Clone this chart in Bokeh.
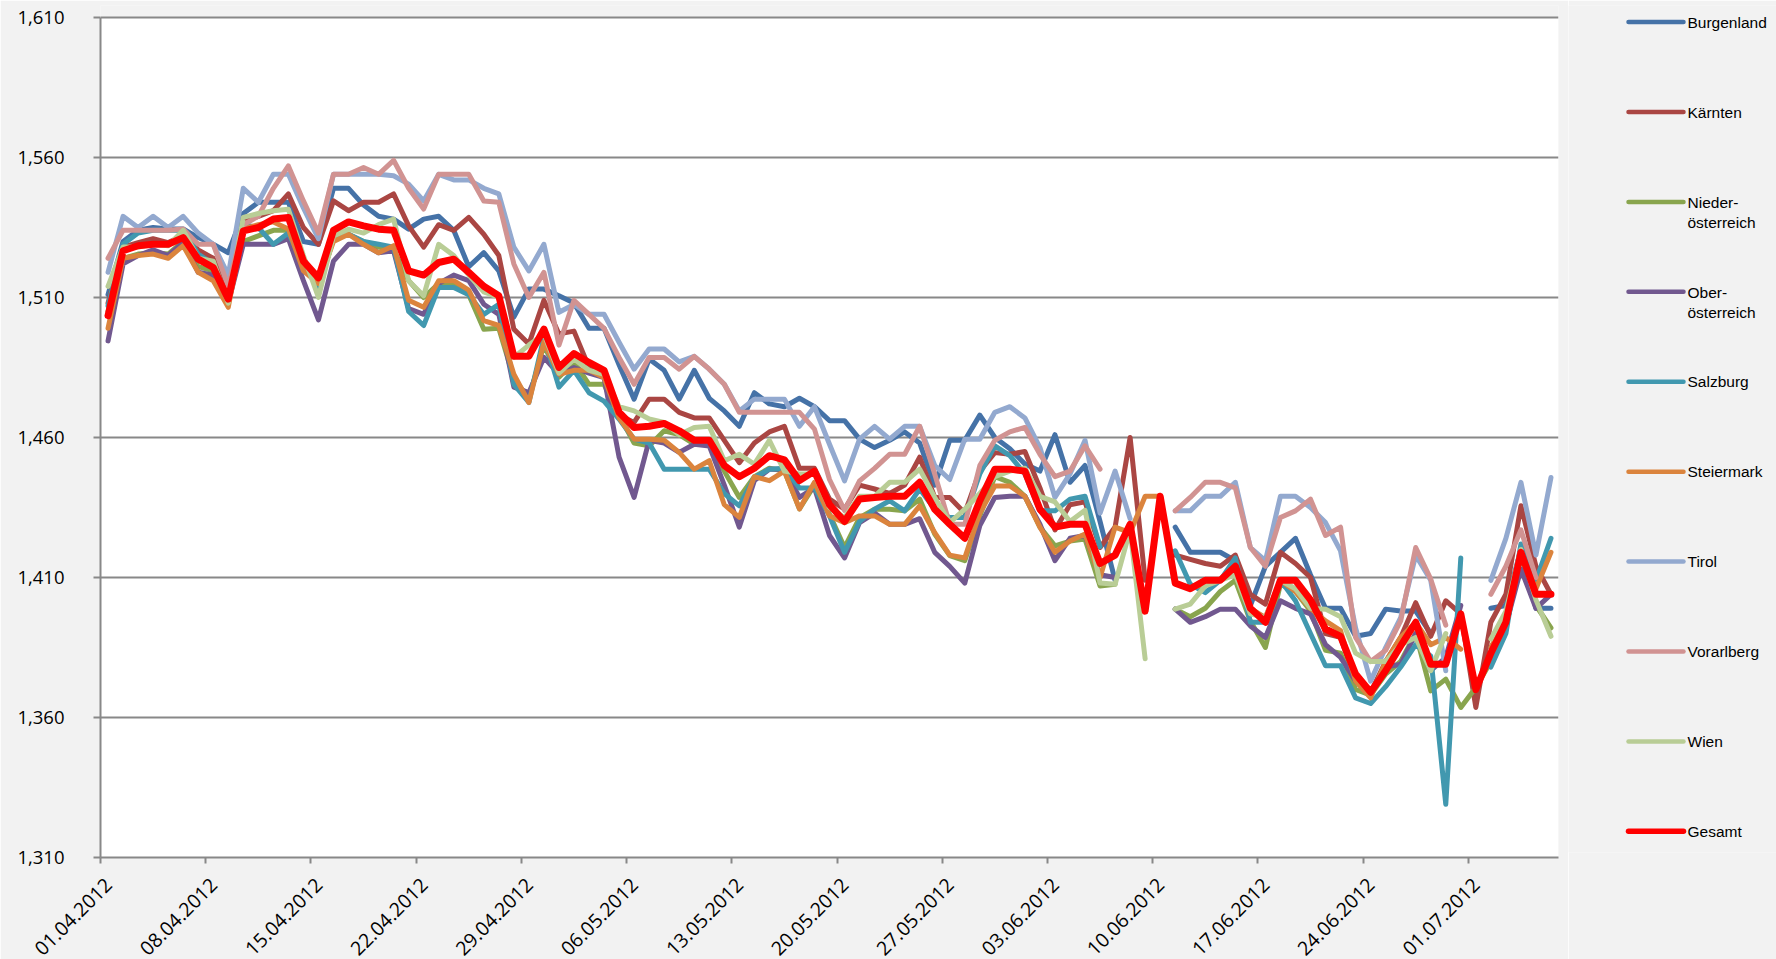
import math
import numpy as np
import pandas as pd
from bokeh.plotting import figure
from bokeh.models import (ColumnDataSource, Range1d, FixedTicker, CustomJSTickFormatter,
                          LinearAxis)
from bokeh.layouts import row
from bokeh.embed import file_html
from bokeh.resources import INLINE
from bokeh.core.properties import value

nan = float("nan")

# ---------------- data ----------------
dates = pd.date_range("2012-04-01", "2012-07-06", freq="D")   # 97 daily categories
tick_labels = ["01.04.2012", "08.04.2012", "15.04.2012", "22.04.2012", "29.04.2012",
               "06.05.2012", "13.05.2012", "20.05.2012", "27.05.2012", "03.06.2012",
               "10.06.2012", "17.06.2012", "24.06.2012", "01.07.2012"]
y_ticks = [1.31, 1.36, 1.41, 1.46, 1.51, 1.56, 1.61]

series_names = ["Burgenland", "Kärnten", "Nieder-\nösterreich", "Ober-\nösterreich", "Salzburg",
                "Steiermark", "Tirol", "Vorarlberg", "Wien", "Gesamt"]

burgenland = [1.511, 1.530, 1.534, 1.535, 1.5345, 1.5345, 1.5314, 1.529, 1.526, 1.540,
              1.544, 1.544, 1.544, 1.530, 1.529, 1.549, 1.549, 1.543, 1.539, 1.538,
              1.5344, 1.538, 1.539, 1.534, 1.521, 1.526, 1.5195, 1.503, 1.513, 1.513,
              1.5106, 1.508, 1.499, 1.499, 1.486, 1.4737, 1.488, 1.484, 1.4737, 1.484,
              1.474, 1.4695, 1.464, 1.476, 1.472, 1.471, 1.474, 1.471, 1.466, 1.466,
              1.4594, 1.4564, 1.459, 1.462, 1.458, 1.443, 1.459, 1.459, 1.468, 1.460,
              1.456, 1.4505, 1.448, 1.461, 1.444, 1.450, 1.430, 1.409, nan, nan,
              nan, 1.428, 1.419, 1.419, 1.419, 1.416, 1.400, 1.414, 1.419, 1.424,
              1.411, 1.399, 1.399, 1.389, 1.390, 1.3987, 1.398, 1.398, 1.390, nan,
              nan, nan, 1.399, 1.400, 1.420, 1.399, 1.399]

kaernten = [1.508, 1.528, 1.5296, 1.531, 1.5296, 1.532, 1.527, 1.524, 1.512, 1.537,
            1.539, 1.541, 1.547, 1.535, 1.529, 1.5445, 1.541, 1.544, 1.544, 1.547,
            1.5356, 1.528, 1.536, 1.534, 1.5386, 1.5326, 1.525, 1.4987, 1.4934, 1.509,
            1.497, 1.498, 1.485, 1.482, 1.468, 1.4654, 1.4737, 1.4737, 1.469, 1.467,
            1.467, 1.459, 1.451, 1.458, 1.462, 1.464, 1.449, 1.449, 1.438, 1.4344,
            1.443, 1.4416, 1.440, 1.443, 1.453, 1.4386, 1.4386, 1.433, 1.448, 1.4546,
            1.454, 1.455, 1.442, 1.427, 1.436, 1.437, 1.4207, 1.428, 1.460, 1.409,
            nan, 1.418, 1.4165, 1.415, 1.414, 1.418, 1.404, 1.4005, 1.419, 1.415,
            1.410, 1.390, 1.3886, 1.373, 1.369, 1.380, 1.3886, 1.401, 1.389, 1.4017,
            1.397, 1.3636, 1.394, 1.404, 1.4356, 1.414, 1.404]

niederoesterreich = [1.505, 1.524, 1.5255, 1.526, 1.5255, 1.530, 1.521, 1.5195, 1.509, 1.530,
                     1.532, 1.534, 1.534, 1.523, 1.514, 1.531, 1.5326, 1.530, 1.528, 1.527,
                     1.516, 1.510, 1.515, 1.515, 1.511, 1.4987, 1.499, 1.481, 1.474, 1.493,
                     1.4815, 1.487, 1.479, 1.479, 1.468, 1.458, 1.457, 1.4624, 1.461, 1.4576,
                     1.4576, 1.448, 1.4386, 1.446, 1.449, 1.448, 1.4345, 1.443, 1.4326, 1.4207,
                     1.4314, 1.4344, 1.4344, 1.4338, 1.438, 1.4255, 1.4178, 1.416, 1.432, 1.446,
                     1.444, 1.439, 1.428, 1.4213, 1.423, 1.4237, 1.407, 1.4076, nan, nan,
                     nan, 1.3987, 1.396, 1.399, 1.405, 1.409, 1.3945, 1.385, 1.4076, 1.405,
                     1.398, 1.384, 1.383, 1.370, 1.368, 1.3755, 1.380, 1.390, 1.3695, 1.3737,
                     1.3636, 1.3707, 1.380, 1.392, 1.418, 1.400, 1.392]

oberoesterreich = [1.4945, 1.522, 1.525, 1.527, 1.525, 1.5296, 1.519, 1.518, 1.508, 1.529,
                   1.529, 1.529, 1.531, 1.516, 1.502, 1.523, 1.529, 1.529, 1.526, 1.5267,
                   1.506, 1.504, 1.515, 1.518, 1.516, 1.5076, 1.504, 1.478, 1.476, 1.4886,
                   1.4826, 1.485, 1.483, 1.4814, 1.453, 1.4386, 1.459, 1.458, 1.4547, 1.4576,
                   1.457, 1.443, 1.428, 1.4446, 1.4487, 1.4487, 1.4386, 1.442, 1.425, 1.417,
                   1.4296, 1.433, 1.429, 1.429, 1.431, 1.419, 1.414, 1.408, 1.4285, 1.4386,
                   1.439, 1.439, 1.429, 1.416, 1.424, 1.425, 1.411, 1.410, nan, nan,
                   nan, 1.3987, 1.394, 1.396, 1.3987, 1.3987, 1.3927, 1.3886, 1.4017, 1.399,
                   1.397, 1.386, 1.3815, 1.373, 1.368, 1.378, 1.379, 1.390, 1.3767, 1.3815,
                   1.400, nan, 1.385, 1.393, 1.413, 1.399, 1.404]

salzburg = [1.507, 1.529, 1.533, 1.534, 1.534, 1.534, 1.5255, 1.522, 1.509, 1.536,
            1.535, 1.529, 1.533, 1.522, 1.5136, 1.531, 1.5326, 1.530, 1.529, 1.528,
            1.505, 1.500, 1.5136, 1.5136, 1.511, 1.504, 1.5076, 1.479, 1.4725, 1.496,
            1.478, 1.484, 1.476, 1.473, 1.4666, 1.4594, 1.458, 1.4487, 1.4487, 1.4487,
            1.4487, 1.440, 1.4356, 1.4457, 1.4487, 1.449, 1.442, 1.442, 1.432, 1.419,
            1.430, 1.4344, 1.4374, 1.4338, 1.4416, 1.4344, 1.4314, 1.4314, 1.447, 1.457,
            1.4535, 1.447, 1.4338, 1.4338, 1.438, 1.439, 1.421, nan, nan, nan,
            nan, 1.4195, 1.4076, 1.4046, 1.409, 1.417, 1.394, 1.394, 1.409, 1.4017,
            1.390, 1.3785, 1.3785, 1.367, 1.365, 1.371, 1.378, 1.386, 1.382, 1.329,
            1.417, nan, 1.378, 1.390, 1.422, 1.409, 1.424]

steiermark = [1.499, 1.524, 1.525, 1.5255, 1.524, 1.5285, 1.519, 1.516, 1.5065, 1.5345,
              1.536, 1.537, 1.5345, 1.5195, 1.515, 1.530, 1.5326, 1.529, 1.526, 1.5285,
              1.509, 1.5065, 1.516, 1.516, 1.5126, 1.5017, 1.500, 1.4826, 1.4725, 1.494,
              1.4826, 1.484, 1.484, 1.4814, 1.467, 1.4594, 1.4594, 1.459, 1.4547, 1.4487,
              1.4517, 1.436, 1.4315, 1.446, 1.4446, 1.448, 1.4345, 1.444, 1.432, 1.4296,
              1.432, 1.432, 1.429, 1.429, 1.4356, 1.426, 1.418, 1.417, 1.433, 1.4427,
              1.4427, 1.439, 1.428, 1.419, 1.423, 1.4255, 1.410, 1.428, 1.426, 1.439,
              1.439, 1.408, 1.4064, 1.4076, 1.409, 1.412, 1.399, 1.3957, 1.409, 1.405,
              1.399, 1.3945, 1.391, 1.373, 1.367, 1.380, 1.3886, 1.394, 1.386, 1.3886,
              1.3844, nan, 1.385, 1.395, 1.418, 1.406, 1.419]

tirol = [1.519, 1.539, 1.535, 1.539, 1.535, 1.539, 1.533, 1.529, 1.518, 1.549,
         1.544, 1.554, 1.554, 1.542, 1.531, 1.554, 1.554, 1.554, 1.554, 1.5535,
         1.5505, 1.5445, 1.554, 1.552, 1.552, 1.549, 1.547, 1.528, 1.5195, 1.529,
         1.5047, 1.5075, 1.504, 1.504, 1.494, 1.4844, 1.4916, 1.4916, 1.487, 1.489,
         1.4844, 1.479, 1.4695, 1.4737, 1.4737, 1.4737, 1.464, 1.471, 1.4576, 1.4445,
         1.4594, 1.464, 1.4594, 1.464, 1.464, 1.450, 1.445, 1.4594, 1.4594, 1.469,
         1.471, 1.467, 1.4564, 1.4386, 1.447, 1.459, 1.433, 1.448, 1.431, nan,
         nan, 1.4338, 1.4338, 1.439, 1.439, 1.444, 1.4207, 1.416, 1.439, 1.439,
         1.435, 1.4296, 1.4195, 1.392, 1.373, 1.385, 1.3957, 1.418, 1.409, 1.3767,
         nan, nan, 1.409, 1.424, 1.444, 1.418, 1.4457]

vorarlberg = [1.524, 1.534, 1.534, 1.534, 1.534, 1.5345, 1.529, 1.529, 1.514, 1.536,
              1.539, 1.549, 1.557, 1.5445, 1.533, 1.554, 1.554, 1.5564, 1.554, 1.559,
              1.549, 1.5416, 1.554, 1.554, 1.554, 1.5445, 1.544, 1.522, 1.510, 1.519,
              1.493, 1.509, 1.504, 1.499, 1.4886, 1.479, 1.4886, 1.4886, 1.4844, 1.489,
              1.4844, 1.479, 1.469, 1.469, 1.469, 1.469, 1.469, 1.463, 1.445, 1.434,
              1.4445, 1.449, 1.454, 1.454, 1.464, 1.447, 1.429, 1.429, 1.450, 1.459,
              1.462, 1.4636, 1.454, 1.446, 1.448, 1.457, 1.4487, nan, nan, nan,
              nan, 1.4338, 1.4386, 1.444, 1.444, 1.442, 1.4207, 1.414, 1.4314, 1.4338,
              1.438, 1.425, 1.428, 1.3886, 1.380, 1.384, 1.3945, 1.4207, 1.4094, 1.393,
              nan, nan, 1.404, 1.414, 1.427, 1.410, nan]

wien = [1.514, 1.528, 1.528, 1.529, 1.5285, 1.534, 1.524, 1.523, 1.508, 1.5386,
        1.540, 1.541, 1.5415, 1.525, 1.510, 1.532, 1.5344, 1.533, 1.536, 1.538,
        1.516, 1.5106, 1.529, 1.525, 1.518, 1.512, 1.510, 1.4886, 1.493, 1.497,
        1.483, 1.488, 1.484, 1.4826, 1.471, 1.4695, 1.4666, 1.4654, 1.461, 1.4636,
        1.464, 1.4517, 1.454, 1.4505, 1.459, 1.448, 1.447, 1.447, 1.435, 1.4314,
        1.439, 1.439, 1.444, 1.444, 1.4487, 1.4386, 1.4296, 1.4344, 1.440, 1.446,
        1.448, 1.449, 1.439, 1.437, 1.430, 1.434, 1.408, 1.4076, 1.427, 1.381,
        nan, 1.3987, 1.4005, 1.407, 1.409, 1.411, 1.397, 1.3957, 1.409, 1.406,
        1.399, 1.3987, 1.396, 1.383, 1.380, 1.380, 1.386, 1.3886, 1.3767, 1.390,
        nan, nan, 1.388, 1.398, 1.420, 1.402, 1.389]

gesamt = [1.5035, 1.5267, 1.5285, 1.529, 1.529, 1.5314, 1.5237, 1.5207, 1.5094, 1.5338,
          1.535, 1.538, 1.5386, 1.523, 1.517, 1.534, 1.537, 1.5356, 1.5344, 1.534,
          1.5195, 1.518, 1.5225, 1.5237, 1.519, 1.514, 1.5106, 1.489, 1.489, 1.4987,
          1.485, 1.490, 1.4868, 1.484, 1.469, 1.4636, 1.464, 1.465, 1.4624, 1.459,
          1.459, 1.450, 1.446, 1.449, 1.4535, 1.452, 1.4446, 1.448, 1.436, 1.430,
          1.438, 1.4386, 1.439, 1.439, 1.444, 1.4344, 1.429, 1.424, 1.4374, 1.4487,
          1.4487, 1.448, 1.4344, 1.428, 1.429, 1.429, 1.415, 1.418, 1.429, 1.398,
          1.439, 1.408, 1.406, 1.409, 1.409, 1.414, 1.399, 1.394, 1.409, 1.409,
          1.402, 1.3916, 1.389, 1.3755, 1.369, 1.3767, 1.3856, 1.394, 1.379, 1.379,
          1.397, 1.370, 1.383, 1.394, 1.419, 1.404, 1.404]

series_values = [burgenland, kaernten, niederoesterreich, oberoesterreich, salzburg,
                 steiermark, tirol, vorarlberg, wien, gesamt]
colors = ["#4572A7", "#AA4643", "#89A54E", "#71588F", "#4198AF",
          "#DB843D", "#93A9CF", "#D19392", "#B9CD96", "#FF0000"]

# ---------------- styling ----------------
GRID = "#888888"
BG = "#F2F2F2"
TICK_FONT = "Open Sans"
LEG_FONT = value("Liberation Sans")

n_days = len(dates)
x_pos = np.arange(n_days) + 0.5           # points sit in the middle of each day slot
tick_pos = list(range(0, n_days, 7))[:len(tick_labels)]

MAIN_W = 1568
PX_PER_UNIT = 2800.0                      # 140 px per 0.05
HEAD = 12                                 # empty head room above the 1,610 grid line
TOP, BOT = 5, 102
FH = int(round((y_ticks[-1] - y_ticks[0]) * PX_PER_UNIT)) + HEAD
p = figure(frame_width=1458, frame_height=FH,
           x_range=Range1d(0, n_days),
           y_range=Range1d(y_ticks[0], y_ticks[-1] + HEAD / PX_PER_UNIT),
           output_backend="svg", toolbar_location=None,
           min_border_left=100, min_border_right=10, min_border_top=TOP, min_border_bottom=BOT)
p.background_fill_color = None
p.border_fill_color = BG
p.outline_line_color = None

# white plot area only between 1,310 and 1,610
p.quad(left=0, right=n_days, bottom=y_ticks[0], top=y_ticks[-1],
       fill_color="white", line_color=None, level="underlay")
p.background_fill_color = BG

# axis 1: tick marks only
p.xaxis.ticker = FixedTicker(ticks=tick_pos)
p.xaxis.major_label_overrides = {t: "" for t in tick_pos}
p.xaxis.major_label_text_font_size = "0px"
p.xaxis.major_label_standoff = 0
p.xaxis.major_tick_out = 6
p.xaxis.major_tick_in = 0
p.xaxis.minor_tick_line_color = None
p.xaxis.axis_line_color = GRID
p.xaxis.axis_line_width = 2
p.xaxis.major_tick_line_color = GRID
p.xaxis.major_tick_line_width = 2

# axis 2: rotated date labels, nudged half a slot right like the original
shift = 0.53
lab_ticks = [t + shift for t in tick_pos]
lab_axis = LinearAxis(ticker=FixedTicker(ticks=lab_ticks),
                      major_label_overrides={t: lab for t, lab in zip(lab_ticks, tick_labels)},
                      major_label_orientation=math.pi / 4, major_label_standoff=18,
                      major_tick_out=0, major_tick_in=0, major_tick_line_color=None,
                      minor_tick_line_color=None, axis_line_color=None,
                      major_label_text_font=TICK_FONT, major_label_text_font_size="19.5px",
                      major_label_text_color="black")
p.add_layout(lab_axis, "below")

p.yaxis.ticker = FixedTicker(ticks=y_ticks)
p.yaxis.bounds = (y_ticks[0], y_ticks[-1])
p.yaxis.formatter = CustomJSTickFormatter(code="return tick.toFixed(3).replace('.', ',');")
p.yaxis.major_label_standoff = 29
p.yaxis.major_tick_out = 7
p.yaxis.major_tick_in = 0
p.yaxis.minor_tick_line_color = None
p.yaxis.major_label_text_font = TICK_FONT
p.yaxis.major_label_text_font_size = "18.5px"
p.yaxis.major_label_text_color = "black"
p.yaxis.axis_line_color = GRID
p.yaxis.axis_line_width = 2
p.yaxis.major_tick_line_color = GRID
p.yaxis.major_tick_line_width = 2

p.xgrid.visible = False
p.ygrid.grid_line_color = GRID
p.ygrid.grid_line_width = 2
p.ygrid.bounds = (0, n_days)

widths = [5] * 9 + [7]
for vals, col, w in zip(series_values, colors, widths):
    src = ColumnDataSource(dict(x=x_pos, y=np.array(vals, dtype=float)))
    p.line("x", "y", source=src, line_color=col, line_width=w,
           line_join="round", line_cap="round")

# ---------------- legend panel ----------------
LW = 1776 - MAIN_W
q = figure(width=LW, height=TOP + FH + BOT, x_range=Range1d(0, LW),
           y_range=Range1d(TOP + FH, TOP),            # y = pixel row of the page
           output_backend="svg", toolbar_location=None,
           min_border_left=0, min_border_right=0, min_border_top=TOP, min_border_bottom=BOT,
           x_axis_type=None, y_axis_type=None)
q.background_fill_color = BG
q.border_fill_color = BG
q.outline_line_color = None
q.xgrid.visible = False
q.ygrid.visible = False

leg_y = [21.7 + k * 90.45 for k in range(len(series_names))]
q.segment(x0="x0", y0="y", x1="x1", y1="y", line_color="c", line_width="w", line_cap="round",
          source=ColumnDataSource(dict(x0=[60] * len(leg_y), x1=[115] * len(leg_y), y=leg_y,
                                       c=colors, w=[4.5] * 9 + [5.5])))
tx, ty, tt = [], [], []
for name, yy in zip(series_names, leg_y):
    parts = name.split("\n")
    for j, part in enumerate(parts):
        tx.append(119)
        ty.append(yy + (1 + 20 * j if len(parts) > 1 else 0))
        tt.append(part)
q.text(x="x", y="y", text="t", source=ColumnDataSource(dict(x=tx, y=ty, t=tt)),
       text_font=LEG_FONT, text_font_size="15.5px", text_baseline="middle",
       text_align="left", text_color="black")

layout = row(p, q)
html = file_html(layout, INLINE)
html = html.replace("<body>", '<body style="background-color:#F2F2F2;">', 1)
open("out.html", "w").write(html)
